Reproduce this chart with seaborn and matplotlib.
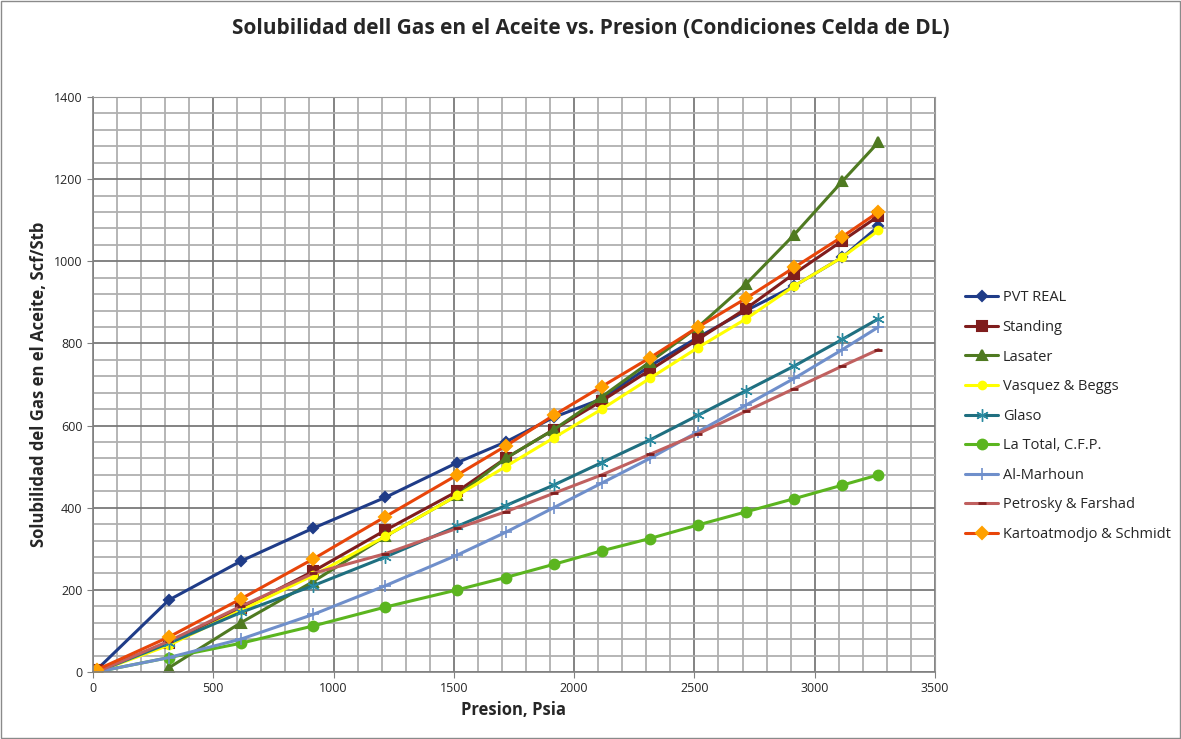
import numpy as np
import pandas as pd
import matplotlib.pyplot as plt
from matplotlib.ticker import MultipleLocator
import seaborn as sns

# Datos
presion = [15, 315, 615, 915, 1215, 1515, 1715, 1915, 2115, 2315, 2515, 2715, 2915, 3115, 3265]

pvt_real = [5, 175, 270, 350, 425, 510, 560, 620, 665, 745, 815, 880, 940, 1010, 1085]
standing = [5, 70, 155, 245, 345, 440, 520, 590, 660, 735, 810, 885, 970, 1050, 1110]
lasater = [np.nan, 10, 120, 220, 330, 430, 520, 590, 670, 755, 840, 945, 1065, 1195, 1290]
vasquez_beggs = [0, 65, 150, 235, 330, 430, 500, 570, 640, 715, 790, 860, 940, 1010, 1075]
glaso = [0, 70, 145, 210, 280, 355, 405, 455, 510, 565, 625, 685, 745, 810, 860]
la_total = [0, 35, 70, 112, 158, 200, 230, 262, 295, 325, 358, 390, 422, 455, 480]
al_marhoun = [0, 35, 80, 140, 210, 285, 340, 400, 460, 520, 585, 650, 715, 785, 840]
petrosky = [0, 75, 160, 240, 288, 350, 390, 435, 480, 530, 580, 635, 690, 745, 785]
kartoatmodjo = [5, 85, 178, 275, 378, 480, 550, 625, 695, 765, 840, 910, 985, 1060, 1120]

series = [
    ('PVT REAL', pvt_real, '#1f3c88', 'D', 5, '#1f3c88', 1.5),
    ('Standing', standing, '#7f1d1d', 's', 7, '#7f1d1d', 1.5),
    ('Lasater', lasater, '#4f7a21', '^', 7, '#4f7a21', 1.5),
    ('Vasquez & Beggs', vasquez_beggs, '#ffff00', 'o', 5.5, '#ffff00', 1.5),
    ('Glaso', glaso, '#1f6f80', (6, 2, 0), 9, '#2a8aa0', 1.0),
    ('La Total, C.F.P.', la_total, '#5bb51f', 'o', 7, '#5bb51f', 1.5),
    ('Al-Marhoun', al_marhoun, '#6f8fcb', '+', 9, '#6f8fcb', 1.2),
    ('Petrosky & Farshad', petrosky, '#c0605f', '_', 6, '#7f1d1d', 2.0),
    ('Kartoatmodjo & Schmidt', kartoatmodjo, '#e8450a', 'D', 6.5, '#ffa000', 1.5),
]

sns.set_style('white')
plt.rcParams['font.family'] = ['Open Sans', 'DejaVu Sans']

fig = plt.figure(figsize=(11.81, 7.39), dpi=100)
ax = fig.add_axes([0.0787, 0.0907, 0.7130, 0.7780])

for nombre, valores, color, marcador, tam, color_marcador, borde in series:
    sns.lineplot(x=presion, y=valores, ax=ax, color=color, linewidth=2.2,
                 marker=marcador, markersize=tam, markerfacecolor=color_marcador,
                 markeredgecolor=color_marcador, markeredgewidth=borde,
                 estimator=None, label=nombre, legend=False)

ax.set_xlim(0, 3500)
ax.set_ylim(0, 1400)
ax.xaxis.set_major_locator(MultipleLocator(500))
ax.xaxis.set_minor_locator(MultipleLocator(100))
ax.yaxis.set_major_locator(MultipleLocator(200))
ax.yaxis.set_minor_locator(MultipleLocator(40))
ax.grid(True, which='major', color='#7a7a7a', linewidth=1.3)
ax.grid(True, which='minor', color='#b0b0b0', linewidth=1.3)
ax.set_axisbelow(True)

for lado in ['top', 'right']:
    ax.spines[lado].set_color('#9a9a9a')
for lado in ['left', 'bottom']:
    ax.spines[lado].set_color('#808080')
    ax.spines[lado].set_linewidth(1.2)

ax.tick_params(axis='both', which='major', labelsize=9, length=4, color='#808080',
               direction='out', left=True, bottom=True)
ax.tick_params(axis='both', which='minor', length=0)

ax.set_xlabel('Presion, Psia', fontsize=12, fontweight='bold')
ax.set_ylabel('Solubilidad del Gas en el Aceite, Scf/Stb', fontsize=12, fontweight='bold')
fig.suptitle('Solubilidad dell Gas en el Aceite vs. Presion (Condiciones Celda de DL)',
             fontsize=15, fontweight='bold', x=0.5, y=0.975)

handles, labels = ax.get_legend_handles_labels()
fig.legend(handles, labels, loc='upper left', bbox_to_anchor=(0.812, 0.615),
           frameon=False, fontsize=10.5, handlelength=2.3, handletextpad=0.3,
           labelspacing=1.0, borderaxespad=0)

fig.patches.append(plt.Rectangle((0.001, 0.001), 0.998, 0.998, transform=fig.transFigure,
                                 fill=False, edgecolor='#8a8a8a', linewidth=1))

plt.savefig('out.png', dpi=100)
